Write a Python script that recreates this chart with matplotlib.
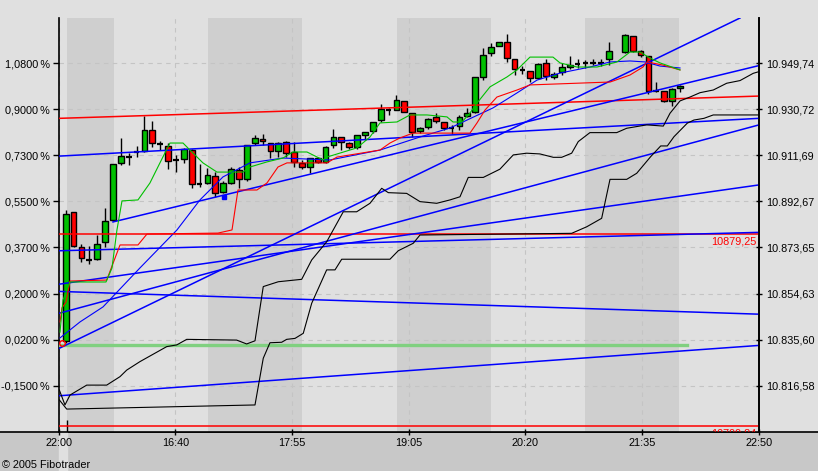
import numpy as np
import matplotlib.pyplot as plt
import matplotlib.transforms as mtransforms
from matplotlib.patches import Rectangle
from matplotlib.lines import Line2D

plt.rcParams['font.family'] = ['Liberation Sans', 'DejaVu Sans']

# 5 minute bars, prices
opens = [10835.0, 10888.3, 10873.9, 10868.5, 10868.9, 10875.9, 10885.0, 10908.4, 10911.0, 10912.9,
         10913.6, 10922.2, 10916.3, 10915.6, 10909.8, 10910.1, 10913.9, 10899.9, 10900.4, 10903.2,
         10896.7, 10900.4, 10905.5, 10901.8, 10916.7, 10918.3, 10916.9, 10913.6, 10917.4, 10912.9,
         10908.7, 10906.8, 10910.5, 10909.1, 10916.0, 10919.4, 10916.7, 10915.0, 10920.1, 10921.9,
         10926.3, 10930.4, 10930.4, 10934.3, 10929.1, 10921.9, 10923.6, 10927.4, 10925.6, 10923.1,
         10923.8, 10928.0, 10929.7, 10944.2, 10953.9, 10957.0, 10958.7, 10951.4, 10947.0, 10946.7,
         10943.5, 10950.0, 10944.1, 10946.3, 10948.3, 10949.4, 10949.7, 10950.0, 10950.0, 10951.4,
         np.nan, 10954.3, 10961.0, 10954.8, 10952.8, 10938.3, 10938.3, 10934.2, 10939.4]
highs = [10889.1, 10888.3, 10875.1, 10874.3, 10878.8, 10890.1, 10908.1, 10918.9, 10912.7, 10915.6,
         10928.0, 10926.0, 10917.6, 10916.7, 10911.9, 10914.8, 10914.2, 10908.1, 10906.4, 10905.0,
         10901.1, 10906.8, 10907.0, 10916.0, 10920.1, 10920.4, 10916.9, 10917.2, 10917.6, 10917.2,
         10909.8, 10910.6, 10911.2, 10915.7, 10922.5, 10919.4, 10917.4, 10920.1, 10921.5, 10925.4,
         10932.9, 10931.2, 10936.6, 10934.3, 10929.1, 10923.6, 10927.0, 10929.1, 10925.6, 10924.3,
         10928.4, 10931.2, 10944.0, 10955.9, 10958.2, 10958.5, 10961.8, 10951.4, 10948.6, 10946.7,
         10949.7, 10951.4, 10946.3, 10950.0, 10952.8, 10951.4, 10951.1, 10951.4, 10951.4, 10958.7,
         np.nan, 10961.8, 10961.0, 10955.2, 10952.8, 10942.1, 10938.3, 10939.5, 10940.8]
lows = [10834.2, 10873.9, 10867.7, 10866.8, 10868.5, 10874.0, 10884.6, 10907.7, 10907.7, 10911.2,
        10913.2, 10915.0, 10913.9, 10906.0, 10905.0, 10908.4, 10898.1, 10898.8, 10899.9, 10894.6,
        10896.2, 10899.9, 10898.4, 10901.2, 10916.0, 10916.0, 10910.5, 10911.2, 10910.9, 10907.1,
        10906.0, 10904.3, 10908.4, 10908.7, 10914.6, 10913.9, 10914.2, 10914.2, 10918.1, 10920.8,
        10925.6, 10928.4, 10930.4, 10929.6, 10919.4, 10920.8, 10922.6, 10925.0, 10922.2, 10920.5,
        10922.2, 10927.6, 10929.3, 10942.8, 10952.8, 10956.9, 10950.4, 10944.9, 10945.3, 10942.1,
        10943.1, 10942.8, 10943.1, 10944.9, 10947.3, 10947.7, 10947.7, 10948.9, 10948.6, 10949.0,
        np.nan, 10954.0, 10954.4, 10952.2, 10937.1, 10938.0, 10933.8, 10932.1, 10938.0]
closes = [10887.5, 10874.1, 10869.3, 10868.5, 10875.0, 10884.7, 10908.0, 10911.4, 10911.0, 10912.9,
          10922.2, 10916.9, 10916.3, 10909.5, 10909.8, 10914.2, 10899.8, 10899.9, 10903.5, 10896.0,
          10900.2, 10906.0, 10901.8, 10915.9, 10918.8, 10917.6, 10913.6, 10916.9, 10912.8, 10908.8,
          10906.8, 10910.5, 10909.1, 10915.3, 10919.4, 10917.4, 10915.0, 10920.1, 10921.5, 10925.4,
          10930.7, 10930.4, 10934.6, 10929.7, 10921.5, 10922.9, 10926.6, 10926.0, 10922.9, 10923.1,
          10927.7, 10929.1, 10944.0, 10953.2, 10956.4, 10958.4, 10951.8, 10947.3, 10947.0, 10943.5,
          10949.3, 10944.5, 10945.3, 10948.1, 10949.0, 10949.4, 10949.7, 10950.0, 10950.0, 10954.9,
          np.nan, 10961.4, 10954.9, 10953.2, 10938.4, 10938.3, 10934.2, 10939.0, 10940.4]

# indicator curves (bar index, price)
green_x = [-0.72, -0.34, 0.55, 5.12, 5.88, 6.51, 7.15, 9.18, 10.70, 11.97, 13.24, 14.90, 15.78, 17.43,
           19.21, 22.51, 23.40, 25.56, 27.59, 28.86, 30.64, 32.67, 33.17, 36.99, 38.64, 39.91, 42.07,
           43.72, 45.88, 48.42, 49.18, 50.32, 51.34, 52.23, 53.88, 56.04, 57.31, 58.96, 61.88, 62.77,
           64.93, 67.47, 70.01, 71.66, 72.93, 74.20, 75.47, 78.01]
green_y = [10838.7, 10852.0, 10859.4, 10859.4, 10865.2, 10880.9, 10892.9, 10893.3, 10900.3, 10908.6,
           10916.8, 10916.8, 10913.9, 10908.6, 10904.8, 10904.8, 10906.9, 10909.0, 10910.6, 10913.1,
           10913.1, 10909.8, 10911.0, 10914.8, 10919.3, 10925.1, 10925.5, 10928.4, 10928.4, 10927.6,
           10925.5, 10925.5, 10929.2, 10933.3, 10940.0, 10944.1, 10947.0, 10952.3, 10952.3, 10949.9,
           10948.2, 10948.2, 10950.3, 10954.4, 10954.4, 10951.9, 10949.9, 10947.0]
red_x = [-0.72, -0.47, 0.04, 0.55, 5.21, 6.90, 9.18, 10.32, 19.34, 21.12, 21.88, 24.29, 25.56, 26.96,
         28.10, 33.18, 34.45, 39.91, 41.18, 42.45, 44.10, 51.34, 52.23, 53.24, 54.76, 57.31, 58.96,
         65.69, 69.13, 71.66, 73.31, 73.82, 75.85, 78.01]
red_y = [10842.9, 10848.7, 10851.1, 10859.8, 10860.2, 10874.7, 10874.7, 10879.2, 10879.6, 10880.9,
         10897.4, 10897.4, 10900.3, 10906.9, 10908.6, 10908.6, 10911.0, 10913.9, 10916.8, 10918.9,
         10920.9, 10920.9, 10925.1, 10930.4, 10935.8, 10938.7, 10940.8, 10941.6, 10942.0, 10944.9,
         10948.2, 10950.3, 10949.0, 10947.0]
blue_x = [-0.72, 1.82, 4.74, 9.43, 14.13, 17.05, 19.97, 23.40, 27.59, 33.56, 39.91, 44.99, 48.80,
          54.26, 57.31, 59.85, 62.77, 66.58, 69.13, 71.66, 73.56, 75.47, 78.01]
blue_y = [10836.3, 10842.9, 10849.1, 10865.2, 10880.9, 10893.3, 10902.8, 10908.6, 10910.6, 10909.8,
          10913.9, 10919.3, 10923.0, 10931.3, 10937.5, 10942.8, 10945.7, 10948.2, 10950.3, 10950.7,
          10950.3, 10948.6, 10947.8]
black_a_x = [-0.81, -0.09, 0.55, 2.67, 5.21, 6.90, 7.75, 9.43, 12.83, 14.10, 15.37, 21.71, 22.98,
             24.04, 25.09, 27.00, 29.97, 31.24, 33.14, 35.25, 36.95, 38.64, 40.13, 40.97, 43.30,
             44.99, 47.11, 48.80, 50.07, 51.12, 53.03, 55.14, 56.84, 58.54, 60.22, 61.92, 62.98,
             64.25, 65.09, 66.57, 69.97, 71.24, 73.78, 75.89, 76.74, 78.01, 79.28, 80.55, 82.23,
             83.94, 85.63, 87.31, 88.04]
black_a_y = [10814.8, 10808.6, 10812.7, 10816.8, 10816.8, 10820.3, 10823.0, 10826.5, 10832.7, 10833.4,
             10835.7, 10835.4, 10833.8, 10835.1, 10857.5, 10859.5, 10860.5, 10868.5, 10876.0, 10888.4,
             10888.4, 10891.9, 10898.1, 10896.3, 10896.0, 10892.6, 10891.9, 10893.3, 10894.6, 10902.6,
             10902.6, 10906.0, 10911.9, 10912.6, 10912.3, 10910.9, 10910.9, 10912.6, 10917.4, 10921.1,
             10921.1, 10922.9, 10924.3, 10923.8, 10929.1, 10934.2, 10935.8, 10937.6, 10938.7, 10941.5,
             10942.6, 10945.6, 10946.3]
black_b_x = [-0.81, 0.13, 24.04, 25.09, 25.94, 27.43, 28.06, 29.12, 30.17, 31.24, 33.14, 34.20, 35.05,
             41.18, 42.23, 44.14, 44.99, 64.25, 66.16, 68.06, 69.12, 71.24, 72.51, 74.29, 75.56,
             76.40, 77.24, 78.93, 79.78, 81.05, 82.23, 88.04]
black_b_y = [10810.7, 10806.9, 10808.6, 10827.9, 10834.3, 10834.5, 10835.7, 10836.1, 10838.2, 10850.6,
             10864.4, 10864.4, 10868.8, 10868.8, 10872.3, 10875.4, 10878.8, 10879.5, 10882.2, 10885.7,
             10901.8, 10901.8, 10904.3, 10911.2, 10915.6, 10915.6, 10919.4, 10925.0, 10926.3, 10927.0,
             10928.4, 10928.4]

# trend lines (x0, p0, x1, p1)
blue_trends = [(-0.81, 10911.4, 88.04, 10927.0),
               (-0.81, 10872.3, 88.04, 10879.9),
               (-0.81, 10855.5, 88.04, 10846.1),
               (-0.81, 10812.4, 88.04, 10833.2),
               (-0.81, 10832.0, 85.63, 10968.45),
               (6.01, 10884.2, 88.04, 10948.8),
               (-0.81, 10858.5, 88.04, 10899.5),
               (-0.81, 10846.5, 88.04, 10924.3)]
red_trend = (-0.81, 10927.0, 88.04, 10936.2)
support_hi = 10879.25
support_lo = 10799.84
green_level = 10833.5
green_level_end = 78.9

# y ticks
price_ticks = [10816.58, 10835.60, 10854.63, 10873.65, 10892.67, 10911.69, 10930.72, 10949.74]
pct_labels = ['-0,1500\u2009%', '0,0200\u2009%', '0,2000\u2009%', '0,3700\u2009%', '0,5500\u2009%',
              '0,7300\u2009%', '0,9000\u2009%', '1,0800\u2009%']
price_labels = ['10.816,58', '10.835,60', '10.854,63', '10.873,65', '10.892,67', '10.911,69', '10.930,72', '10.949,74']
time_ticks = [-0.81, 13.92, 28.78, 43.63, 58.36, 73.22, 88.04]
time_labels = ['22:00', '16:40', '17:55', '19:05', '20:20', '21:35', '22:50']
bands = [(0.13, 6.13), (18.11, 30.0), (42.03, 54.0), (66.0, 77.92)]

BG = '#e0e0e0'
fig = plt.figure(figsize=(8.18, 4.71), dpi=100, facecolor=BG)
# bottom strip under the time axis
fig.patches.append(Rectangle((0, 0), 1, 39 / 471, transform=fig.transFigure, color='#c8c8c8', zorder=-2))
fig.patches.append(Rectangle((59.3 / 818, 0), 7.4 / 818, 39 / 471, transform=fig.transFigure,
                             color=BG, zorder=-1))
fig.lines.append(Line2D([0, 1], [39 / 471, 39 / 471], transform=fig.transFigure, color='black', lw=1.2,
                        zorder=-1))

ax = fig.add_axes([59.3 / 818, 39 / 471, (759 - 59.3) / 818, (432 - 18) / 471])
ax.set_facecolor(BG)
ax.set_xlim(-0.81, 88.04)
ax.set_ylim(10797.43, 10968.45)

for b0, b1 in bands:
    ax.axvspan(b0, b1, color='#cfcfcf', lw=0, zorder=0)

ax.set_yticks(price_ticks)
ax.set_yticklabels(pct_labels, fontsize=7.8)
ax.set_xticks(time_ticks)
ax.set_xticklabels(time_labels, fontsize=7.8)
ax.grid(True, color='#c4c4c4', lw=0.8, ls=(0, (4, 4)), zorder=0.5)
ax.set_axisbelow(True)
ax.tick_params(axis='y', direction='out', length=4, width=1, pad=3)
ax.tick_params(axis='x', direction='inout', length=5, width=1, pad=1.5)
ax.spines['top'].set_visible(False)
for s in ['left', 'bottom', 'right']:
    ax.spines[s].set_linewidth(1.2)

# candles
for i in range(len(opens)):
    o, h, l, c = opens[i], highs[i], lows[i], closes[i]
    if np.isnan(o):
        continue
    ax.vlines(i, l, h, color='black', lw=1, zorder=2)
    if abs(c - o) < 0.3:
        ax.hlines(o, i - 0.36, i + 0.36, color='black', lw=1.6, zorder=2)
    else:
        col = '#00c000' if c > o else '#ff0000'
        ax.add_patch(Rectangle((i - 0.36, min(o, c)), 0.72, abs(c - o), facecolor=col,
                               edgecolor='black', lw=1, zorder=2.5))
ax.vlines(0.13, 10797.43, 10802.4, color='black', lw=1, zorder=2)

# levels and trend lines
ax.axhline(support_hi, color='#ff0000', lw=1.1, zorder=3)
ax.axhline(support_lo, color='#ff0000', lw=1.1, zorder=3)
ax.plot([-0.81, green_level_end], [green_level, green_level], color='#80d080', lw=2.4, zorder=3)
ax.plot([red_trend[0], red_trend[2]], [red_trend[1], red_trend[3]], color='#ff0000', lw=1.1, zorder=3)
for x0, p0, x1, p1 in blue_trends:
    ax.plot([x0, x1], [p0, p1], color='#0000ff', lw=1.1, zorder=3)

ax.plot(black_a_x, black_a_y, color='black', lw=0.8, zorder=3)
ax.plot(black_b_x, black_b_y, color='black', lw=0.8, zorder=3)
ax.plot(blue_x, blue_y, color='#0000ff', lw=0.8, zorder=3.2)
ax.plot(red_x, red_y, color='#ff0000', lw=0.8, zorder=3.3)
ax.plot(green_x, green_y, color='#00c000', lw=0.8, zorder=3.4)

ax.plot([-0.53], [10834.2], 'o', mfc='none', mec='#ff0000', ms=4, mew=1, zorder=4)
ax.plot([20.06], [10894.6], 's', color='#0000ff', ms=3.5, zorder=4)

# price labels under the support levels
below = mtransforms.offset_copy(ax.transData, fig=fig, x=-2, y=-2, units='points')
ax.text(88.04, support_hi, '10879,25', transform=below, ha='right', va='top', color='#ff0000',
        fontsize=7.8)
t = ax.text(88.04, support_lo, '10799,84', transform=below, ha='right', va='top', color='#ff0000',
            fontsize=7.8)
t.set_clip_box(ax.bbox)
t.set_clip_on(True)

# right axis with prices
ax2 = ax.twinx()
ax2.set_ylim(ax.get_ylim())
ax2.set_yticks(price_ticks)
ax2.set_yticklabels(price_labels, fontsize=7.8)
ax2.tick_params(axis='y', direction='inout', length=5, width=1, pad=3)
for s in ['top', 'left', 'bottom']:
    ax2.spines[s].set_visible(False)
ax2.spines['right'].set_linewidth(1.2)

fig.text(2 / 818, 1 - 465 / 471, '\u00a9 2005 Fibotrader', fontsize=7.8, va='center', ha='left')

fig.savefig('out.png', dpi=100, facecolor=BG)
